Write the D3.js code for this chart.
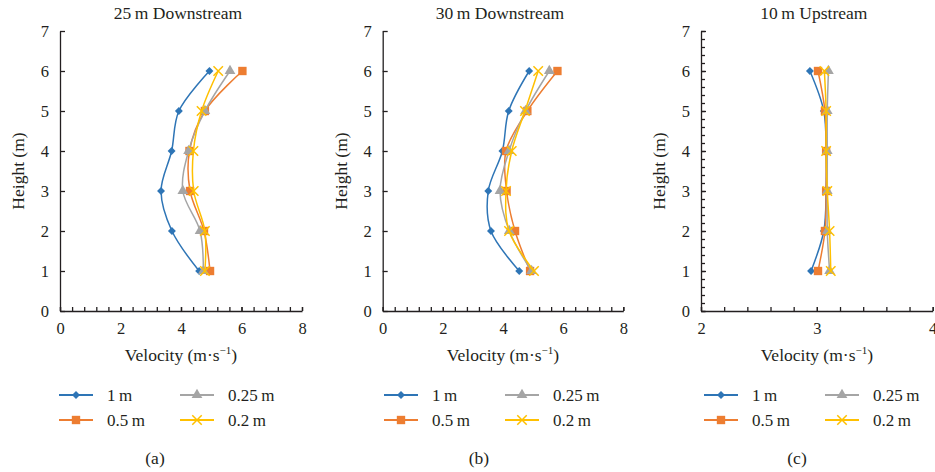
<!DOCTYPE html>
<html>
<head>
<meta charset="utf-8">
<script src="https://cdn.jsdelivr.net/npm/d3@7"></script>
<style>
  body { margin: 0; background: #fff; }
  svg text { font-family: "Liberation Serif", "DejaVu Serif", serif !important; fill: #231f20; }
</style>
</head>
<body>
<svg id="chart" width="935" height="472"></svg>
<script>
// heights of the measuring points (m)
const heights = [1, 2, 3, 4, 5, 6];
const seriesNames = ["1\u2009m", "0.5\u2009m", "0.25\u2009m", "0.2\u2009m"];
const seriesColors = ["#2e75b6", "#ed7d31", "#a5a5a5", "#ffc000"];
const seriesMarkers = ["diamond", "square", "triangle", "cross"];

// velocity values, one array per series, listed from 1 m to 6 m height
const down25 = [
  [4.60, 3.70, 3.34, 3.69, 3.93, 4.94],
  [4.96, 4.76, 4.30, 4.28, 4.79, 6.03],
  [4.74, 4.63, 4.06, 4.25, 4.79, 5.62],
  [4.79, 4.79, 4.42, 4.41, 4.68, 5.23]
];
const down30 = [
  [4.54, 3.60, 3.51, 3.98, 4.19, 4.87],
  [4.90, 4.40, 4.12, 4.10, 4.81, 5.81],
  [4.95, 4.21, 3.90, 4.20, 4.75, 5.54],
  [5.03, 4.20, 4.10, 4.29, 4.73, 5.17]
];
const up10 = [
  [2.95, 3.06, 3.08, 3.08, 3.06, 2.94],
  [3.01, 3.07, 3.08, 3.08, 3.07, 3.01],
  [3.11, 3.09, 3.09, 3.09, 3.09, 3.10],
  [3.12, 3.11, 3.09, 3.08, 3.08, 3.065]
];

const yTickLabels = [0, 1, 2, 3, 4, 5, 6, 7];
const xTickLabelsDown = [0, 2, 4, 6, 8];
const xTickLabelsUp = [2, 3, 4];

const panels = [
  { title: "25\u2009m Downstream", tag: "(a)", data: down25, xDomain: [0, 8], xLabels: xTickLabelsDown, xMinorStep: 0.4, yMinor: false, left: 60, right: 302, tagX: 155, legendX: 0 },
  { title: "30\u2009m Downstream", tag: "(b)", data: down30, xDomain: [0, 8], xLabels: xTickLabelsDown, xMinorStep: 0.4, yMinor: false, left: 382.7, right: 623.3, tagX: 479, legendX: 325 },
  { title: "10\u2009m Upstream", tag: "(c)", data: up10, xDomain: [2, 4], xLabels: xTickLabelsUp, xMinorStep: 0.2, yMinor: true, left: 701, right: 932.7, tagX: 797, legendX: 645 }
];

const plotTop = 31, plotBottom = 311;
const fontStack = "'Liberation Serif', 'DejaVu Serif', serif";
const svg = d3.select("#chart");

function markerPath(type) {
  if (type === "diamond") return d3.symbol(d3.symbolDiamond2, 40)();
  if (type === "square") return d3.symbol(d3.symbolSquare, 70)();
  if (type === "triangle") return d3.symbol(d3.symbolTriangle, 50)();
  return d3.symbol(d3.symbolX, 60)();
}

function drawMarker(g, type, color, x, y) {
  const p = g.append("path")
    .attr("d", markerPath(type))
    .attr("transform", `translate(${x},${y})`);
  if (type === "cross") {
    p.attr("fill", "none").attr("stroke", color).attr("stroke-width", 1.5);
  } else {
    p.attr("fill", color);
  }
}

function steps(a, b, step) {
  const n = Math.round((b - a) / step);
  return d3.range(n + 1).map(i => +(a + i * step).toFixed(4));
}

function drawPanel(p) {
  const g = svg.append("g").attr("font-family", fontStack);
  const x = d3.scaleLinear().domain(p.xDomain).range([p.left, p.right]);
  const y = d3.scaleLinear().domain([0, 7]).range([plotBottom, plotTop]);

  // x axis: minor ticks then labelled ticks
  g.append("g")
    .attr("transform", `translate(0,${plotBottom})`)
    .call(d3.axisBottom(x).tickValues(steps(p.xDomain[0], p.xDomain[1], p.xMinorStep)).tickSize(-4).tickFormat(""))
    .call(a => a.select(".domain").remove());
  const xa = g.append("g")
    .attr("transform", `translate(0,${plotBottom})`)
    .call(d3.axisBottom(x).tickValues(p.xLabels).tickSizeInner(-4).tickSizeOuter(0).tickPadding(11).tickFormat(d3.format("d")));
  xa.attr("font-family", fontStack).attr("font-size", 16.5);

  // y axis
  if (p.yMinor) {
    g.append("g")
      .attr("transform", `translate(${p.left},0)`)
      .call(d3.axisLeft(y).tickValues(steps(0, 7, 0.2)).tickSize(-4).tickFormat(""))
      .call(a => a.select(".domain").remove());
  }
  const ya = g.append("g")
    .attr("transform", `translate(${p.left},0)`)
    .call(d3.axisLeft(y).tickValues(yTickLabels).tickSizeInner(-5).tickSizeOuter(0).tickPadding(11).tickFormat(d3.format("d")));
  ya.attr("font-family", fontStack).attr("font-size", 16.5);

  g.selectAll(".domain, .tick line").attr("stroke", "#231f20").attr("stroke-width", 1.3);

  // titles
  const cx = (p.left + p.right) / 2;
  g.append("text").attr("x", cx - 3).attr("y", 19).attr("text-anchor", "middle")
    .style("font-size", "17.5px").text(p.title);
  g.append("text")
    .attr("transform", `translate(${p.left - 36},${(plotTop + plotBottom) / 2}) rotate(-90)`)
    .attr("text-anchor", "middle").style("font-size", "17.5px").text("Height (m)");
  const xl = g.append("text").attr("x", cx).attr("y", 361).attr("text-anchor", "middle").style("font-size", "17.5px");
  xl.append("tspan").text("Velocity (m\u00b7s");
  xl.append("tspan").attr("dy", -7).style("font-size", "11px").text("\u22121");
  xl.append("tspan").attr("dy", 7).text(")");

  // series lines then markers
  const line = d3.line()
    .x(d => x(d[0]))
    .y(d => y(d[1]))
    .curve(d3.curveCatmullRom.alpha(0.5));
  p.data.forEach((vals, i) => {
    const pts = vals.map((v, k) => [v, heights[k]]);
    g.append("path").datum(pts)
      .attr("d", line)
      .attr("fill", "none")
      .attr("stroke", seriesColors[i])
      .attr("stroke-width", 1.5);
    pts.forEach(pt => drawMarker(g, seriesMarkers[i], seriesColors[i], x(pt[0]), y(pt[1])));
  });

  // legend, two columns
  const legendPos = [[59, 395], [59, 420], [180, 395], [180, 420]];
  seriesNames.forEach((name, i) => {
    const lx = legendPos[i][0] + p.legendX;
    const ly = legendPos[i][1];
    g.append("line").attr("x1", lx).attr("x2", lx + 34).attr("y1", ly).attr("y2", ly)
      .attr("stroke", seriesColors[i]).attr("stroke-width", 2);
    drawMarker(g, seriesMarkers[i], seriesColors[i], lx + 17, ly);
    g.append("text").attr("x", lx + 48).attr("y", ly + 5.5).style("font-size", "17px").text(name);
  });

  g.append("text").attr("x", p.tagX).attr("y", 464).attr("text-anchor", "middle")
    .style("font-size", "17.5px").text(p.tag);
}

panels.forEach(drawPanel);
</script>
</body>
</html>
